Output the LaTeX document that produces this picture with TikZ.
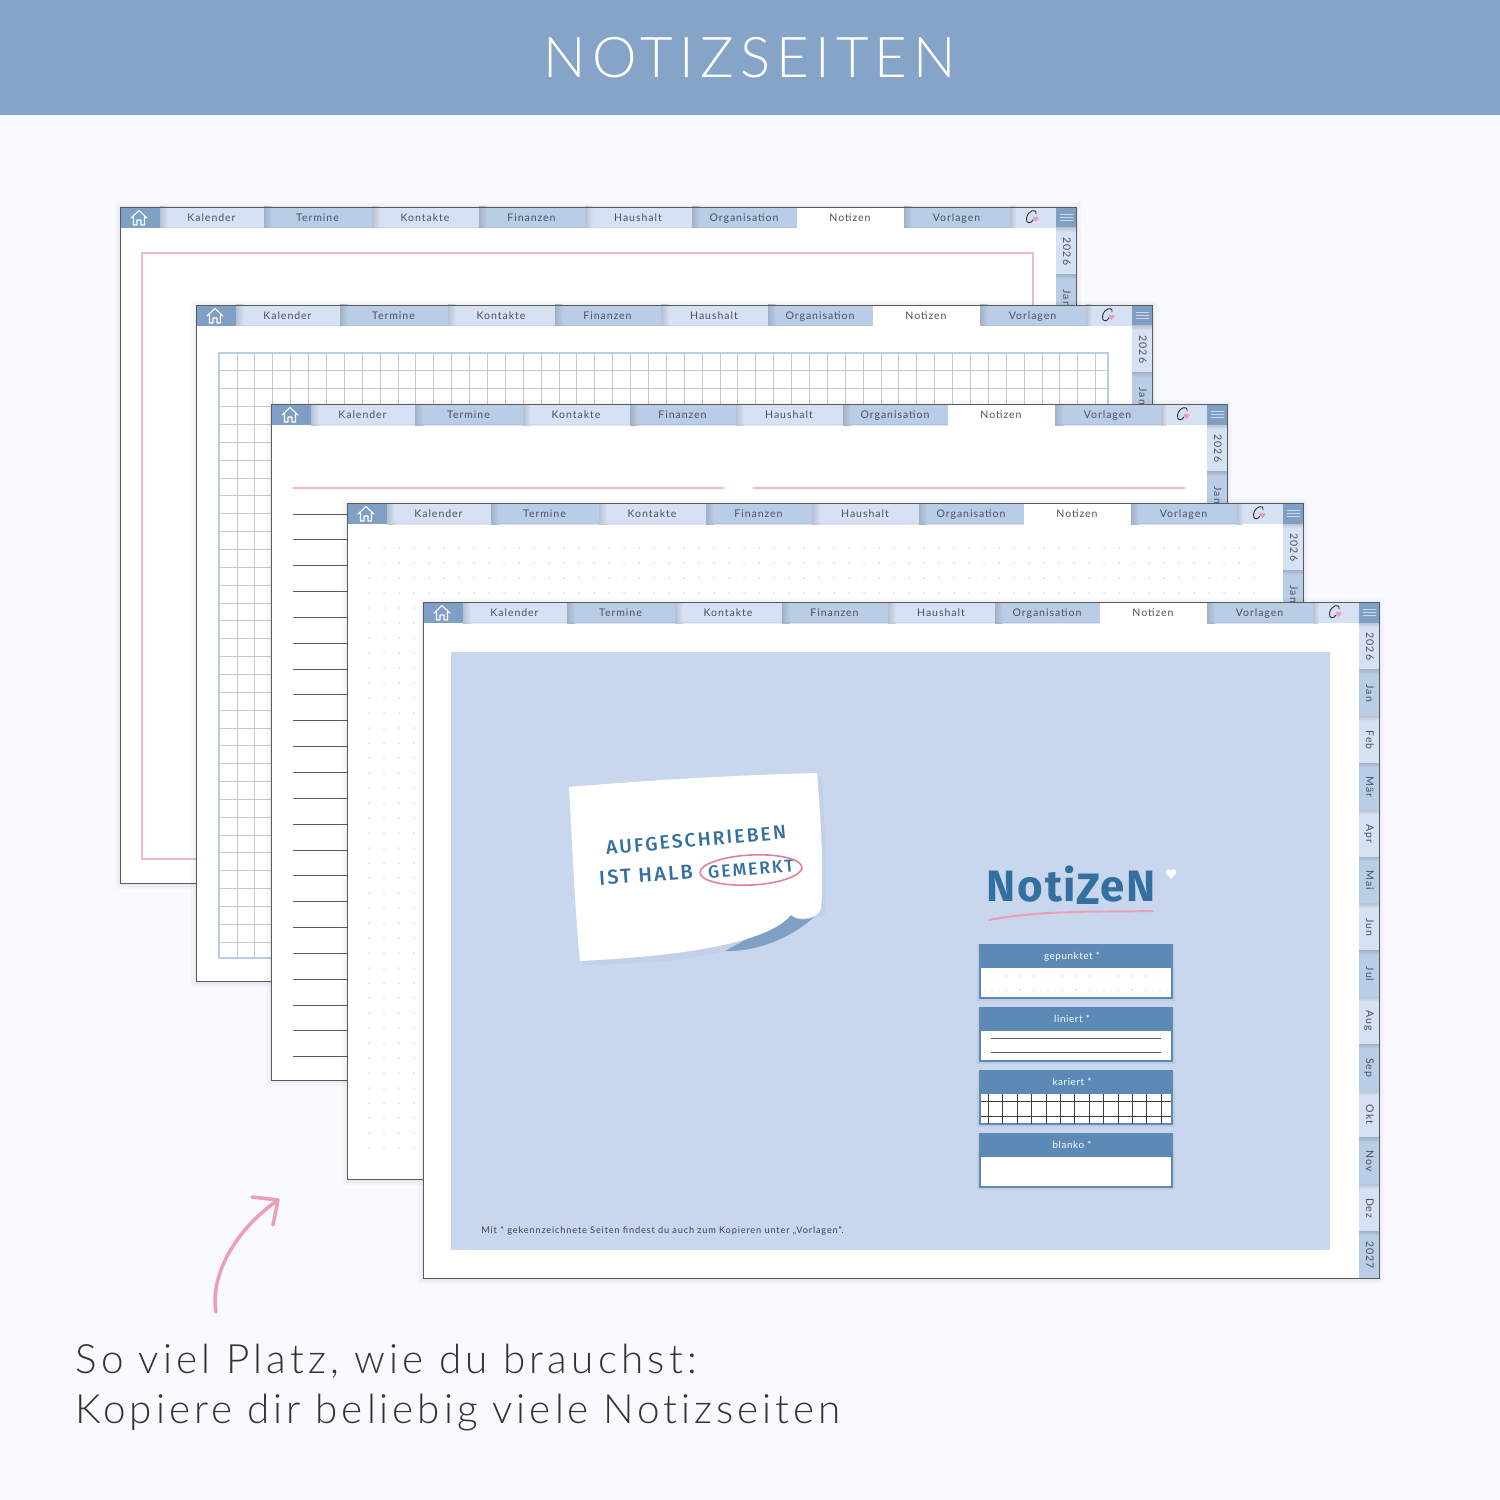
\documentclass[tikz,border=0pt]{standalone}
\usepackage{fontspec}
\setmainfont{Lato Light}
\newfontfamily\titlefont[LetterSpace=11]{Lato Light}
\newfontfamily\closingfont[LetterSpace=10.5, Ligatures={NoCommon}]{Lato Light}
\newfontfamily\closingtight[LetterSpace=9.8, Ligatures={NoCommon}]{Lato Light}
\newfontfamily\tabfont[LetterSpace=9]{Lato}
\newfontfamily\boxfont[LetterSpace=6]{Lato}
\newfontfamily\handfont[LetterSpace=11]{Fira Sans Medium}
\newfontfamily\bighandfont[LetterSpace=4]{Fira Sans Bold}

\definecolor{backcol}{HTML}{F8FAFF}
\definecolor{headcol}{HTML}{86A4C7}
\definecolor{lighttab}{HTML}{D6E1F3}
\definecolor{darktab}{HTML}{BACDE6}
\definecolor{menutab}{HTML}{7F9FC5}
\definecolor{tabtext}{HTML}{4A5160}
\definecolor{panelcol}{HTML}{C8D7EE}
\definecolor{notecol}{HTML}{5C89B6}
\definecolor{inkcol}{HTML}{34709F}
\definecolor{pinkcol}{HTML}{EE9DB7}
\definecolor{palepink}{HTML}{F1B8CA}
\definecolor{ringcol}{HTML}{E27F9E}
\definecolor{gridcol}{HTML}{C6C8CC}
\definecolor{gridedge}{HTML}{B8CCE6}
\definecolor{rulecol}{HTML}{5A5A5A}

\tikzset{
  tab label/.style={font=\tabfont\fontsize{6}{7}\selectfont, text=tabtext, inner sep=0pt, anchor=base},
  note label/.style={font=\boxfont\fontsize{5.6}{7}\selectfont, text=white, inner sep=0pt, anchor=base},
  hand label/.style={font=\handfont\fontsize{#1}{13}\selectfont, text=inkcol},
  closing label/.style={text=black!80, anchor=base west, inner sep=0pt},
  pink rule/.style={draw=palepink, line width=0.65pt},
  dark rule/.style={draw=rulecol, line width=0.45pt},
  % one calendar sheet: tabs on top, month tabs on the right
  blank sheet/.pic={
    \foreach \off in {5,3,1.5}
      \fill[black, opacity=0.02] (-\off,-\off+1) rectangle (956.3+\off,676+\off+1);
    \fill[white] (0,0) rectangle (956.3,676);
    \foreach \xa/\xb/\tabname/\tabcol in {
      40/144/Kalender/lighttab, 144/252/Termine/darktab,
      252/359/Kontakte/lighttab, 359/465/Finanzen/darktab,
      465/572/Haushalt/lighttab, 572/677/Organisation/darktab,
      784/890/Vorlagen/darktab}
    {
      \fill[\tabcol] (\xa,0) rectangle (\xb,21);
      \shade[left color=\tabcol!86!black, right color=\tabcol] (\xa,0) rectangle (\xa+8,21);
      \fill[\tabcol!85!black, opacity=0.3] (\xa,20) rectangle (\xb,21.5);
      \node[tab label] (tab\tabname) at ({(\xa+\xb)/2-0.5},14.6) {\tabname};
    }
    \node[tab label] (tabNotizen) at (730,14.6) {Notizen};
    % small logo tab
    \fill[lighttab] (890,0) rectangle (936,21);
    \shade[left color=lighttab!86!black, right color=lighttab] (890,0) rectangle (896,21);
    \draw[rulecol!50!black, line width=0.5pt, line cap=round] (916,7) .. controls (917,1) and (908,3) .. (906.5,11)
      .. controls (905.5,17) and (911,17) .. (913,13);
    \fill[pinkcol] (915.5,15) -- (912.5,11.5) .. controls (912,9) and (915,9) .. (915.5,10.5)
      .. controls (916,9) and (919,9) .. (918.5,11.5) -- cycle;
    % home tab
    \fill[menutab] (0,0) rectangle (40,21);
    \draw[white, line width=0.6pt, line join=round, line cap=round] (11,11) -- (19,3.5) -- (27,11)
      (13.5,9.5) -- (13.5,18) -- (17,18) -- (17,13) -- (21,13) -- (21,18) -- (24.5,18) -- (24.5,9.5);
    % menu tab
    \fill[menutab] (936,0) rectangle (956.3,21);
    \foreach \yy in {7,10,13}
      \draw[white, opacity=0.6, line width=0.4pt] (940,\yy) -- (953,\yy);
    % month tabs
    \foreach \tabno/\tabname/\tabcol in {
      0/2026/lighttab, 1/Jan/darktab, 2/Feb/lighttab, 3/Mär/darktab,
      4/Apr/lighttab, 5/Mai/darktab, 6/Jun/lighttab, 7/Jul/darktab,
      8/Aug/lighttab, 9/Sep/darktab, 10/Okt/lighttab, 11/Nov/darktab,
      12/Dez/lighttab, 13/2027/darktab}
    {
      \fill[\tabcol] (936,21+46.8*\tabno) rectangle (956.3,21+46.8*\tabno+46.8);
      \shade[top color=\tabcol!88!black, bottom color=\tabcol] (936,21+46.8*\tabno) rectangle (956.3,21+46.8*\tabno+4);
      \node[tab label, rotate=-90] (month\tabno) at (943,44.5+46.8*\tabno) {\tabname};
    }
    \draw[rulecol, line width=0.5pt] (0,0) rectangle (956.3,676);
  },
  frame sheet/.pic={
    \pic {blank sheet};
    \draw[pink rule] (22,46) rectangle (913,652);
  },
  grid sheet/.pic={
    \pic {blank sheet};
    \foreach \col in {1,...,49}
      \draw[gridcol, line width=0.4pt] (23+17.89*\col,48) -- (23+17.89*\col,653);
    \foreach \row in {1,...,33}
      \draw[gridcol, line width=0.4pt] (23,48+17.85*\row) -- (912,48+17.85*\row);
    \draw[gridedge, line width=0.8pt] (23,48) rectangle (912,653);
  },
  lined sheet/.pic={
    \pic {blank sheet};
    \draw[pink rule] (22,84) -- (453,84) (482,84) -- (914,84);
    \foreach \row in {0,...,21}
      \draw[dark rule] (22,110+25.84*\row) -- (914,110+25.84*\row);
  },
  dotted sheet/.pic={
    \pic {blank sheet};
    \foreach \col in {0,...,59}
      \foreach \row in {0,...,40}
        \fill[gridcol] (22+15*\col,45+15*\row) circle (0.75);
  },
}

\begin{document}
\begin{tikzpicture}[x=0.02cm, y=-0.02cm]
  \useasboundingbox (0,0) rectangle (1500,1500);
  \fill[backcol] (0,0) rectangle (1500,1500);
  \fill[headcol] (0,0) rectangle (1500,115);
  \node[font=\titlefont\fontsize{32}{36}\selectfont, text=white] (title) at (750,58) {NOTIZSEITEN};

  \pic at (120,207) {frame sheet};
  \pic at (196,305) {grid sheet};
  \pic at (271,404) {lined sheet};
  \pic at (347,503) {dotted sheet};
  \pic at (423,602) {blank sheet};

  \fill[panelcol] (451,652) rectangle (1330,1250);

  % sticky note
  \fill[black, opacity=0.025] (573,790) -- (822,776) .. controls (825,830) and (827,880) .. (825,915)
    -- (790,922) .. controls (740,955) and (680,964) .. (582,965) -- cycle;
  \fill[menutab] (791,915) .. controls (795,920) and (806,921) .. (814,917)
    .. controls (795,935) and (760,952) .. (725,951) -- cycle;
  \fill[white] (569,787) .. controls (650,780) and (740,775) .. (817,773)
    .. controls (821,820) and (824,880) .. (821,908)
    .. controls (820,918) and (800,922) .. (791,915)
    .. controls (770,940) and (700,955) .. (580,961)
    .. controls (575,910) and (572,840) .. (569,787) -- cycle;
  \node[hand label=11, rotate=5] (notea) at (696,840) {AUFGESCHRIEBEN};
  \node[hand label=11.5, rotate=4] (noteb) at (646,875) {IST HALB};
  \node[hand label=10, rotate=5] (notec) at (751,869) {GEMERKT};
  \draw[ringcol, line width=0.9pt, rotate around={3:(751,870)}] (751,870) ellipse (51 and 15);

  % heading with underline and heart
  \node[font=\bighandfont\fontsize{25}{30}\selectfont, text=inkcol] (heading) at (1071,885) {Noti\raisebox{-2pt}{Z}eN};
  \draw[pinkcol, line width=1.1pt, line cap=round] (989,920) .. controls (1040,910) and (1100,912) .. (1153,911);
  \fill[white] (1171,879) -- (1166,873) .. controls (1165,869) and (1170,868) .. (1171,871)
    .. controls (1172,868) and (1177,869) .. (1176,873) -- cycle;

  % the four page choices
  \foreach \boxy/\boxname in {944/gepunktet, 1007/liniert, 1070/kariert, 1133/blanko}
  {
    \fill[black, opacity=0.05] (977,\boxy+1) rectangle (1175,\boxy+57);
    \fill[notecol] (979,\boxy) rectangle (1173,\boxy+55);
    \fill[white] (981,\boxy+24) rectangle (1171,\boxy+53);
    \node[note label] (box\boxname) at (1072,\boxy+15) {\boxname~*};
  }
  \foreach \col in {0,...,12}
    \foreach \yy in {976,990}
      \fill[gridcol!80!black] (992+14*\col,\yy) circle (0.6);
  \foreach \yy in {1038,1052}
    \draw[dark rule] (991,\yy) -- (1161,\yy);
  \foreach \col in {0,...,12}
    \draw[rulecol!70!black, line width=0.45pt] (988.3+14.4*\col,1094) -- (988.3+14.4*\col,1124);
  \foreach \yy in {1101,1116}
    \draw[rulecol!70!black, line width=0.45pt] (981,\yy) -- (1171,\yy);

  \node[font=\tabfont\fontsize{5.25}{7}\selectfont, text=tabtext!80!black, anchor=base west, inner sep=0pt] (footnote) at (481,1233)
    {Mit * gekennzeichnete Seiten findest du auch zum Kopieren unter „Vorlagen“.};

  % pink arrow
  \coordinate (arrowstart) at (216,1312);
  \coordinate (arrowtip) at (278,1200);
  \draw[pinkcol, line width=2pt, line cap=round, line join=round] (arrowstart)
    .. controls (210,1275) and (235,1230) .. (arrowtip) (252,1197) -- (arrowtip) -- (273,1225);

  \node[closing label, font=\closingfont\fontsize{23}{28}\selectfont] (closinga) at (75,1373)
    {So viel Platz, wie du brauchst:};
  \node[closing label, font=\closingtight\fontsize{23}{28}\selectfont] (closingb) at (75,1423)
    {Kopiere dir beliebig viele Notizseiten};
\end{tikzpicture}
\end{document}
